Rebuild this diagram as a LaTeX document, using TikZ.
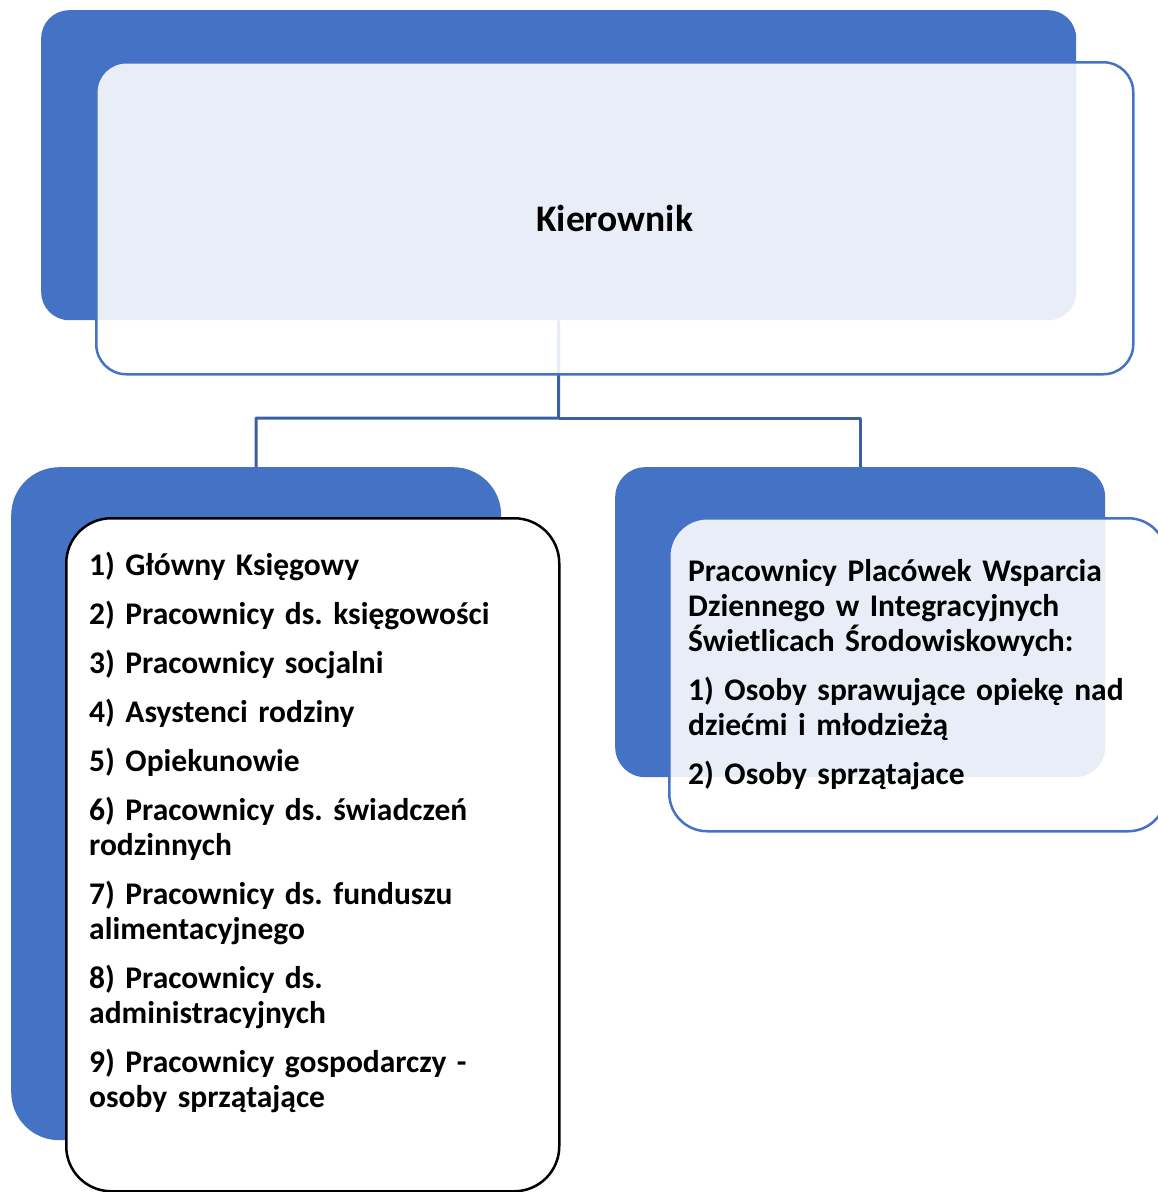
\documentclass[tikz,border=0pt]{standalone}
\usepackage{fontspec}
\setmainfont{Carlito}
\usepackage{tikz}

\definecolor{boxblue}{HTML}{4472C4}
\definecolor{lineblue}{HTML}{3A5FA3}

\tikzset{
  backbox/.style={fill=boxblue, inner sep=0pt, anchor=north west},
  frontbox/.style={draw=boxblue, line width=2.5pt, fill=white, fill opacity=0.88,
    text opacity=1, inner sep=0pt, anchor=north west},
  conn/.style={draw=lineblue, line width=3pt},
  listtext/.style={font=\fontsize{31.5}{35}\selectfont\bfseries\frenchspacing, inner sep=0pt,
    anchor=base west, align=left}
}

\begin{document}
\begin{tikzpicture}[line join=round, x=1pt, y=-1pt]

% page
\clip (0,0) rectangle (1158,1192);
\useasboundingbox (0,0) rectangle (1158,1192);

% back boxes
\node[backbox, rounded corners=28pt, minimum width=1035pt, minimum height=310pt] (kback) at (41,10) {};
\node[backbox, rounded corners=48pt, minimum width=490pt, minimum height=673pt] (lback) at (11,467) {};
\node[backbox, rounded corners=30pt, minimum width=490pt, minimum height=310pt] (rback) at (615,467) {};

% connectors
\coordinate (bus) at (558.5,418);
\draw[conn] (kback.south) -- (bus) -| (lback.north);
\draw[conn] (bus) -| (rback.north);

% front boxes
\node[frontbox, rounded corners=30pt, minimum width=1037pt, minimum height=312pt,
  font=\fontsize{37.5}{42}\selectfont\bfseries] (kfront) at (95,61) {Kierownik};
\node[frontbox, draw=black, fill opacity=1, rounded corners=45pt, minimum width=493pt, minimum height=673pt] (lfront) at (65,517) {};
\node[frontbox, rounded corners=38pt, minimum width=497pt, minimum height=313pt] (rfront) at (668,517) {};

% texts
\node[listtext, text width=460pt] (ltext) at (89,575) {1) Główny Księgowy\\[14pt]
2) Pracownicy ds. księgowości\\[14pt]
3) Pracownicy socjalni\\[14pt]
4) Asystenci rodziny\\[14pt]
5) Opiekunowie\\[14pt]
6) Pracownicy ds. świadczeń\\ rodzinnych\\[14pt]
7) Pracownicy ds. funduszu\\ alimentacyjnego\\[14pt]
8) Pracownicy ds.\\ administracyjnych\\[14pt]
9) Pracownicy gospodarczy -\\ osoby sprzątające};

\node[listtext, text width=460pt] (rtext) at (688,581) {Pracownicy Placówek Wsparcia\\
Dziennego w Integracyjnych\\ Świetlicach Środowiskowych:\\[14pt]
1) Osoby sprawujące opiekę nad\\ dziećmi i młodzieżą\\[14pt]
2) Osoby sprzątajace};

\end{tikzpicture}
\end{document}
